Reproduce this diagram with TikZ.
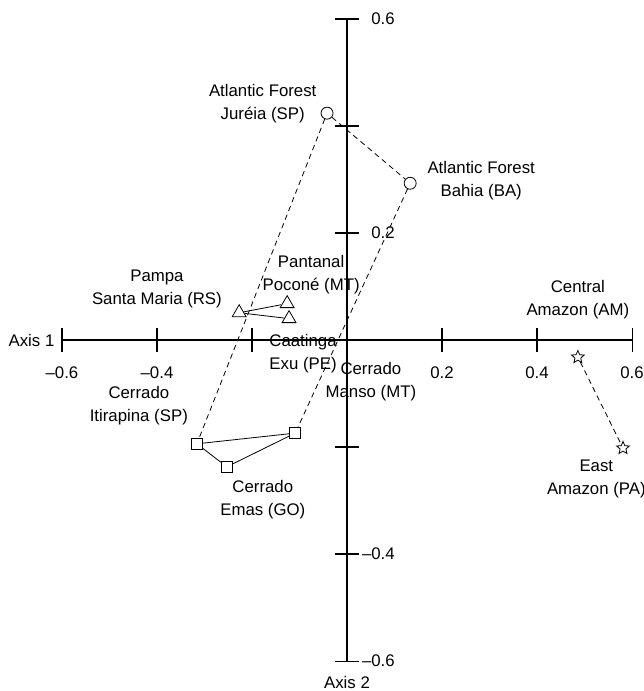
\documentclass[tikz,border=0pt]{standalone}
\usepackage{fontspec}
\setmainfont{Liberation Sans}
\usetikzlibrary{shapes.geometric}
\pgfdeclarelayer{bg}
\pgfsetlayers{bg,main}
\tikzset{
    every node/.style={inner sep=0pt, font=\fontsize{12.6}{17.25}\selectfont}
}
\tikzset{every label/.style={align=center, inner sep=0pt}}
\tikzset{
    site/.style={draw, fill=white, line width=0.6pt},
    forest/.style={site, circle, minimum size=9pt},
    wetland/.style={site, regular polygon, regular polygon sides=3, minimum size=12pt},
    savanna/.style={site, rectangle, minimum size=8.3pt},
    amazon/.style={site, star, star points=5, star point ratio=2.2, minimum size=10pt},
    axisline/.style={line width=0.8pt},
    link/.style={line width=0.6pt},
    dashlink/.style={line width=0.6pt, dash pattern=on 4pt off 3pt}
}

\begin{document}
\begin{tikzpicture}[x=356.25pt, y=401.25pt, label distance=3pt]
        \useasboundingbox (-0.7305,-0.656) rectangle (0.6232,0.6355);
        % axes
        \coordinate (w) at (-0.6,0);
        \coordinate (e) at (0.6,0);
        \coordinate (s) at (0,-0.6);
        \coordinate (n) at (0,0.6);
        \draw [axisline] (w) -- (e);
        \draw [axisline] (s) -- (n);
        \foreach \x in {-0.6,-0.4,-0.2,0.2,0.4,0.6}
                \draw [axisline] (\x,0) +(0,-9pt) -- +(0,9pt);
        \foreach \y in {-0.6,-0.4,-0.2,0.2,0.4,0.6}
                \draw [axisline] (0,\y) +(-9pt,0) -- +(9pt,0);
        \foreach \x/\t [count=\i] in {-0.6/–0.6, -0.4/–0.4, 0.2/0.2, 0.4/0.4, 0.6/0.6}
                \node (xl\i) [anchor=north, yshift=-19.5pt] at (\x,0) {\t};
        \foreach \y/\t [count=\i] in {0.6/0.6, 0.2/0.2, -0.4/–0.4, -0.6/–0.6}
                \node (yl\i) [anchor=east, xshift=36pt] at (0,\y) {\t};
        \node (axis1) [anchor=east, xshift=-5.5pt] at (w) {Axis 1};
        \node (axis2) [anchor=north, yshift=-11pt] at (s) {Axis 2};
        % sites
        \node (jureia) [forest, label={[yshift=7.5pt]left:Atlantic Forest\\Juréia (SP)}] at (-0.042, 0.424) {};
        \node (bahia) [forest, label={[xshift=5pt, yshift=2pt]right:Atlantic Forest\\Bahia (BA)}] at (0.133, 0.293) {};
        \node (pampa) [wetland, label={[xshift=-6pt, yshift=18pt]left:Pampa\\Santa Maria (RS)}] at (-0.227, 0.051) {};
        \node (pantanal) [wetland, label={[xshift=18pt, yshift=-2.5pt]above:Pantanal\\Poconé (MT)}] at (-0.126, 0.068) {};
        \node (caatinga) [wetland, label={[xshift=10.5pt, yshift=-5pt]below:Caatinga\\Exu (PE)}] at (-0.122, 0.040) {};
        \node (itirapina) [savanna, label={[yshift=7pt]above left:Cerrado\\Itirapina (SP)}] at (-0.316, -0.194) {};
        \node (emas) [savanna, label={[xshift=27pt, yshift=-2.5pt]below:Cerrado\\Emas (GO)}] at (-0.253, -0.237) {};
        \node (manso) [savanna, label={[xshift=16pt, yshift=17.5pt]above right:Cerrado\\Manso (MT)}] at (-0.109, -0.174) {};
        \node (central) [amazon, label={[yshift=20pt]above:Central\\Amazon (AM)}] at (0.486, -0.032) {};
        \node (east) [amazon, label={[xshift=-20pt, yshift=-3pt]below:East\\Amazon (PA)}] at (0.581, -0.202) {};
        \begin{pgfonlayer}{bg}
                \draw (jureia) edge [dashlink] (bahia);
                \draw (jureia) edge [dashlink] (itirapina);
                \draw (bahia) edge [dashlink] (manso);
                \draw (pampa) edge [link] (pantanal);
                \draw (pampa) edge [link] (caatinga);
                \draw (itirapina) edge [link] (manso);
                \draw (itirapina) edge [link] (emas);
                \draw (emas) edge [link] (manso);
                \draw (central) edge [dashlink] (east);
        \end{pgfonlayer}
\end{tikzpicture}
\end{document}
